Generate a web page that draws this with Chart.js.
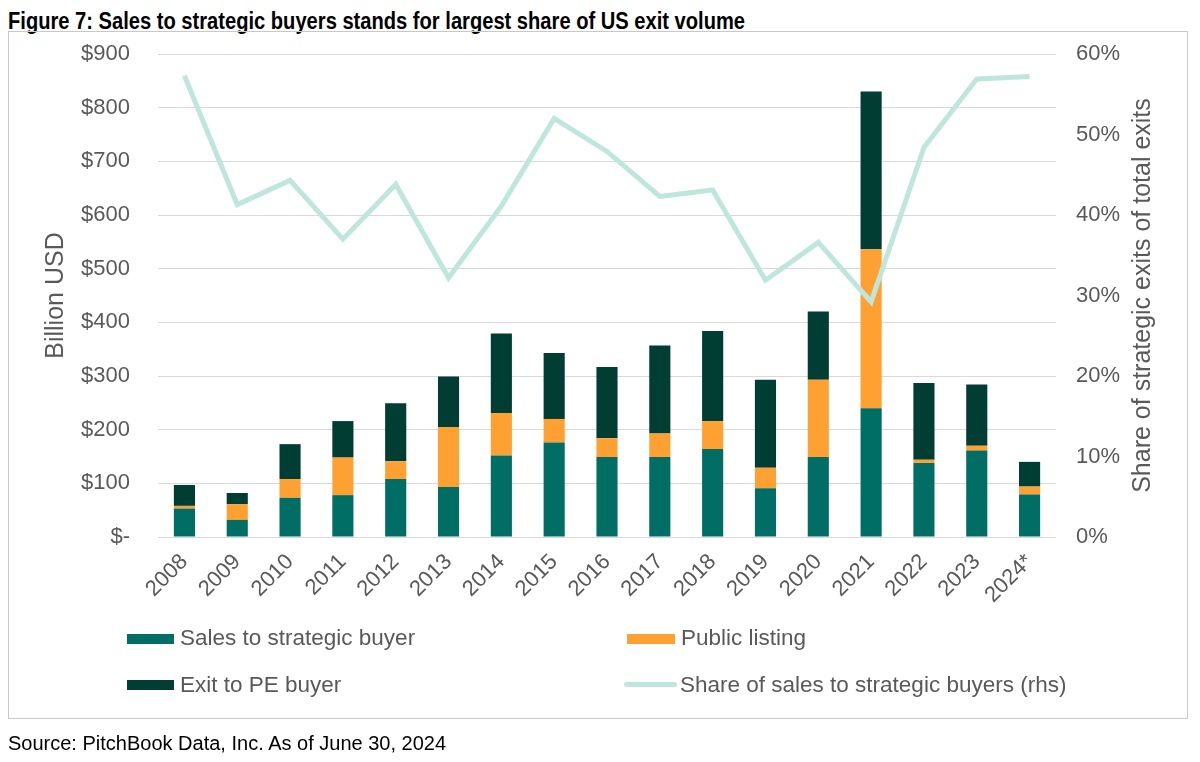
<!DOCTYPE html>
<html>
<head>
<meta charset="utf-8">
<script src="https://cdn.jsdelivr.net/npm/chart.js@4.4.1/dist/chart.umd.min.js"></script>
<style>
  html, body { margin: 0; padding: 0; background: #fff; }
  body { width: 1200px; height: 762px; position: relative; overflow: hidden; font-family: "Liberation Sans", Arial, sans-serif; }
  #title { position: absolute; left: 8px; top: 10px; font-family: "Liberation Sans", Arial, sans-serif; font-weight: bold; font-size: 23px; line-height: 23px; color: #000; white-space: nowrap; transform: scaleX(0.875); transform-origin: 0 0; }
  #frame { position: absolute; left: 8px; top: 31px; width: 1180px; height: 688px; border: 1px solid #C8C8C8; box-sizing: border-box; }
  #wrap { position: absolute; left: 0; top: 0; width: 1200px; height: 762px; }
  .lg { position: absolute; font-size: 22.5px; line-height: 22.5px; color: #595959; white-space: nowrap; }
  .sw { position: absolute; }
  #source { position: absolute; left: 8px; top: 733px; font-size: 20px; line-height: 20px; color: #000; white-space: nowrap; }
</style>
</head>
<body>
<div id="title">Figure 7: Sales to strategic buyers stands for largest share of US exit volume</div>
<div id="frame"></div>
<div id="wrap"><canvas id="c" width="1200" height="762"></canvas></div>

<div class="sw" style="left:127px;top:634px;width:47px;height:10px;background:#006E64"></div>
<div class="lg" style="left:180px;top:627px">Sales to strategic buyer</div>
<div class="sw" style="left:627px;top:634px;width:48px;height:10px;background:#FFA033"></div>
<div class="lg" style="left:681px;top:627px">Public listing</div>
<div class="sw" style="left:127px;top:680px;width:47px;height:10px;background:#003D33"></div>
<div class="lg" style="left:180px;top:674px">Exit to PE buyer</div>
<div class="sw" style="left:624px;top:682px;width:53px;height:5px;border-radius:3px;background:#BFE6DC"></div>
<div class="lg" style="left:680px;top:674px">Share of sales to strategic buyers (rhs)</div>

<div id="source">Source: PitchBook Data, Inc. As of June 30, 2024</div>

<script>
const years = ['2008','2009','2010','2011','2012','2013','2014','2015','2016','2017','2018','2019','2020','2021','2022','2023','2024*'];
const strategic = [53, 32, 73, 78, 108, 93, 152, 176, 149, 149, 164, 91, 149, 240, 138, 161, 79];
const publicListing = [5, 29, 35, 70, 33, 112, 79, 44, 35, 44, 52, 38, 144, 296, 6, 9, 15];
const peBuyer = [39, 21, 65, 68, 108, 94, 148, 123, 133, 164, 168, 164, 127, 294, 143, 114, 46];
const shareStrategic = [57.3, 41.3, 44.3, 37.0, 43.8, 32.2, 41.1, 52.0, 47.9, 42.3, 43.1, 31.9, 36.6, 29.2, 48.4, 56.9, 57.2];
const leftTicks = [0, 100, 200, 300, 400, 500, 600, 700, 800, 900];
const rightTicks = [0, 10, 20, 30, 40, 50, 60];

const gray = '#595959';
const tickFont = { family: '"Liberation Sans", Arial, sans-serif', size: 22 };
const axisTitleFont = { family: '"Liberation Sans", Arial, sans-serif', size: 25 };

const rightTitle = {
  id: 'rightTitle',
  afterDraw(chart) {
    const ctx = chart.ctx;
    const a = chart.chartArea;
    ctx.save();
    ctx.translate(1143, (a.top + a.bottom) / 2);
    ctx.rotate(-Math.PI / 2);
    ctx.font = '25px "Liberation Sans", Arial, sans-serif';
    ctx.fillStyle = gray;
    ctx.textAlign = 'center';
    ctx.textBaseline = 'middle';
    ctx.fillText('Share of strategic exits of total exits', 0, 0);
    ctx.restore();
  }
};

new Chart(document.getElementById('c'), {
  data: {
    labels: years,
    datasets: [
      { type: 'line', label: 'Share of sales to strategic buyers (rhs)', data: shareStrategic, yAxisID: 'y1',
        borderColor: '#BFE6DC', borderWidth: 5, pointRadius: 0, tension: 0, order: 0, fill: false },
      { type: 'bar', label: 'Sales to strategic buyer', data: strategic, backgroundColor: '#006E64', yAxisID: 'y', stack: 's', order: 1 },
      { type: 'bar', label: 'Public listing', data: publicListing, backgroundColor: '#FFA033', yAxisID: 'y', stack: 's', order: 1 },
      { type: 'bar', label: 'Exit to PE buyer', data: peBuyer, backgroundColor: '#003D33', yAxisID: 'y', stack: 's', order: 1 }
    ]
  },
  options: {
    responsive: false,
    animation: false,
    devicePixelRatio: 1,
    layout: { padding: { left: 0, right: 0, top: 54, bottom: 145 } },
    datasets: { bar: { categoryPercentage: 1, barPercentage: 0.4 } },
    plugins: { legend: { display: false }, tooltip: { enabled: false }, title: { display: false } },
    scales: {
      x: {
        stacked: true,
        grid: { display: false },
        border: { display: false },
        ticks: { color: gray, font: tickFont, minRotation: 45, maxRotation: 45, padding: 4, autoSkip: false },
        afterFit(s) { s.height = 80; }
      },
      y: {
        position: 'left', stacked: true, min: 0, max: 900,
        afterBuildTicks(s) { s.ticks = leftTicks.map(v => ({ value: v })); },
        grid: { color: '#D9D9D9', lineWidth: 1, drawTicks: false },
        border: { display: false },
        ticks: { color: gray, font: tickFont, padding: 28, callback: v => v === 0 ? '$-' : '$' + v },
        title: { display: true, text: 'Billion USD', color: gray, font: axisTitleFont, padding: { top: 41, bottom: 0 } },
        afterFit(s) { s.width = 158; }
      },
      y1: {
        position: 'right', min: 0, max: 60,
        afterBuildTicks(s) { s.ticks = rightTicks.map(v => ({ value: v })); },
        grid: { display: false, drawTicks: false },
        border: { display: false },
        ticks: { color: gray, font: tickFont, padding: 20, callback: v => v + '%' },
        afterFit(s) { s.width = 144; }
      }
    }
  },
  plugins: [rightTitle]
});
</script>
</body>
</html>
